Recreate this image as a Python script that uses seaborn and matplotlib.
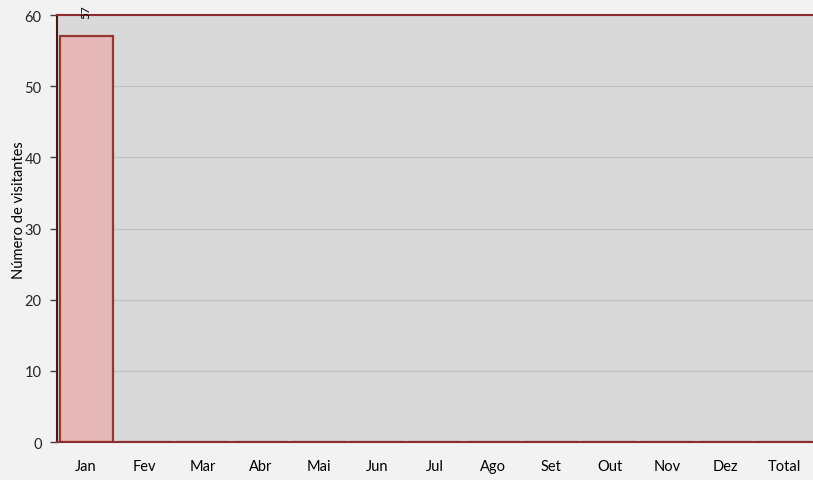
import matplotlib
matplotlib.use("Agg")
import matplotlib.pyplot as plt
import seaborn as sns
import numpy as np
import pandas as pd

# data
months = ["Jan", "Fev", "Mar", "Abr", "Mai", "Jun", "Jul", "Ago", "Set", "Out", "Nov", "Dez", "Total"]
visitors = [57, 0, 0, 0, 0, 0, 0, 0, 0, 0, 0, 0, 0]
y_ticks = [0, 10, 20, 30, 40, 50, 60]

df = pd.DataFrame({"mes": months, "visitantes": visitors})

sns.set_theme(style="white")
plt.rcParams["font.family"] = ["Lato", "DejaVu Sans"]

fig = plt.figure(figsize=(8.13, 4.81), dpi=100, facecolor="#f2f2f2")
ax = fig.add_axes([0.0701, 0.079, 0.93, 0.8877])
ax.set_facecolor("#d9d9d9")

sns.barplot(data=df, x="mes", y="visitantes", color="#e6b8b7", saturation=1,
            width=0.91, edgecolor="#953735", linewidth=1.6, ax=ax)

ax.set_ylim(0, 60)
ax.set_xlim(-0.5, len(months) - 0.5)
ax.set_yticks(y_ticks)
ax.yaxis.grid(True, color="#bfbfbf", linewidth=0.8)
ax.set_axisbelow(True)

# bar value label (rotated, above the bar)
ax.bar_label(ax.containers[0], labels=[str(v) if v else "" for v in visitors],
             rotation=90, padding=13, fontsize=8.5, color="#000000", clip_on=False)

# category boundary ticks
ax.set_xticks(np.arange(-0.5, len(months), 1.0), minor=True)
ax.tick_params(axis="x", which="major", length=0, pad=12, labelsize=10.5, colors="#000000")
ax.tick_params(axis="x", which="minor", length=5, width=1, color="#404040", direction="out")
ax.tick_params(axis="y", length=5, width=1, color="#404040", direction="out", labelsize=10.5,
               pad=6, left=True)

for s in ["top", "bottom"]:
    ax.spines[s].set_color("#8b2e2e")
    ax.spines[s].set_linewidth(1.5)
ax.spines["left"].set_color("#4a1a1a")
ax.spines["left"].set_linewidth(1.5)
ax.spines["right"].set_visible(False)

ax.set_xlabel("")
ax.set_ylabel("Número de visitantes", fontsize=10.5, color="#000000")
ax.yaxis.set_label_coords(-0.041, 0.546)

fig.savefig("out.png", dpi=100, facecolor=fig.get_facecolor())
